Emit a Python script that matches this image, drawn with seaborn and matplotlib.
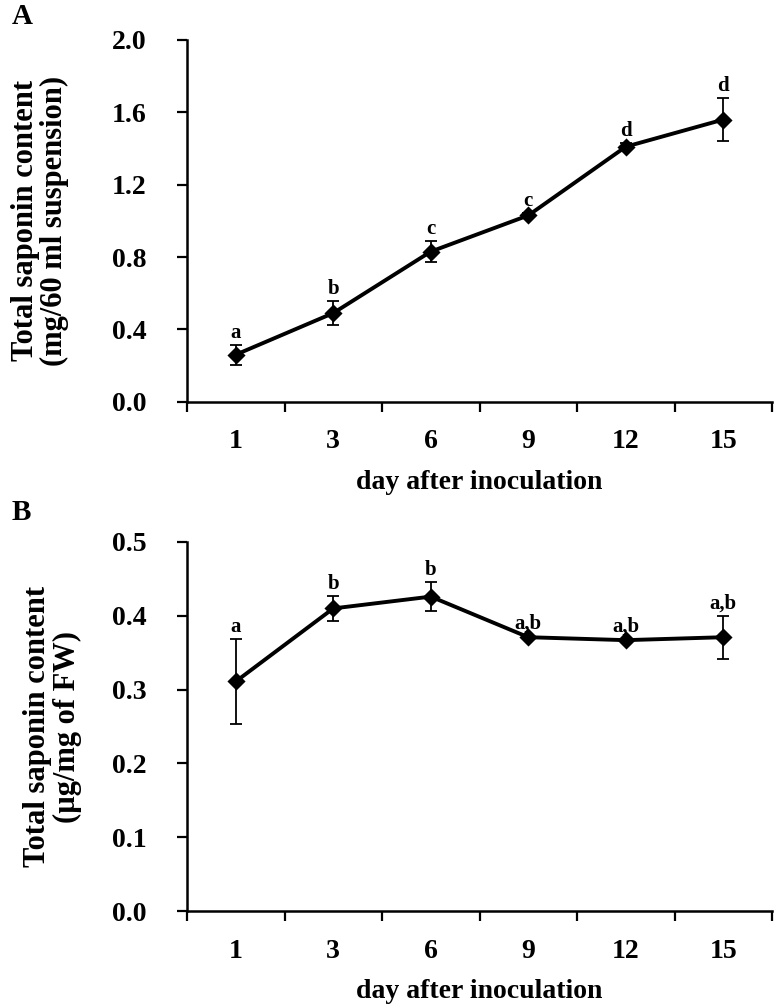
import matplotlib
matplotlib.use("Agg")
import matplotlib.pyplot as plt
import seaborn as sns
import numpy as np
import pandas as pd

# ---- data ----
days = ["1", "3", "6", "9", "12", "15"]
saponin_a = [0.26, 0.49, 0.83, 1.03, 1.41, 1.56]
err_a = [0.055, 0.067, 0.06, 0.012, 0.02, 0.12]
letters_a = ["a", "b", "c", "c", "d", "d"]

saponin_b = [0.311, 0.410, 0.426, 0.371, 0.367, 0.371]
err_b = [0.057, 0.017, 0.020, 0.002, 0.002, 0.029]
letters_b = ["a", "b", "b", "a,b", "a,b", "a,b"]

xlabel = "day after inoculation"
ylabel_a = "Total saponin content\n(mg/60 ml suspension)"
ylabel_b = "Total saponin content\n(\u00b5g/mg of FW)"

sns.set_theme(style="white")
plt.rcParams["font.family"] = ["Liberation Serif", "DejaVu Serif"]
plt.rcParams["font.weight"] = "bold"

fig = plt.figure(figsize=(7.77, 10.05), dpi=100)
axA = fig.add_axes([0.2407, 0.6003, 0.7529, 0.3599])
axB = fig.add_axes([0.2407, 0.0935, 0.7529, 0.3672])


def draw(ax, vals, errs, letters, ymax, ystep, ylab, ylab_x, label_off, fmt):
    df = pd.DataFrame({"day": days, "val": vals})
    sns.pointplot(data=df, x="day", y="val", order=days, color="black",
                  markers="D", markersize=7, linewidth=2.8, errorbar=None, ax=ax)
    pos = np.arange(len(days))
    ax.errorbar(pos, vals, yerr=errs, fmt="none", ecolor="black",
                elinewidth=1.3, capsize=4, capthick=1.3, zorder=1)
    for p, v, e, t in zip(pos, vals, errs, letters):
        ax.text(p, v + e + label_off, t, ha="center", va="bottom",
                fontsize=15, fontweight="bold", color="black")
    ax.set_xlim(-0.5, len(days) - 0.5)
    ax.set_ylim(0, ymax)
    yt = np.arange(0, ymax + ystep / 2, ystep)
    ax.set_yticks(yt)
    ax.set_yticklabels([fmt.format(v) for v in yt], fontsize=20, fontweight="bold")
    ax.set_xticks(pos)
    ax.set_xticklabels(days, fontsize=20, fontweight="bold")
    ax.set_xticks(np.arange(-0.5, len(days) + 0.5, 1), minor=True)
    ax.tick_params(axis="x", which="major", length=0, pad=20, colors="black")
    ax.tick_params(axis="x", which="minor", length=7, width=1.6, direction="out",
                   color="black", bottom=True)
    ax.tick_params(axis="y", which="major", length=7, width=1.6, direction="out",
                   pad=22, colors="black", left=True)
    for s in ["top", "right"]:
        ax.spines[s].set_visible(False)
    for s in ["left", "bottom"]:
        ax.spines[s].set_color("black")
        ax.spines[s].set_linewidth(1.8)
    ax.set_xlabel(xlabel, fontsize=20, fontweight="bold", labelpad=11, color="black")
    ax.set_ylabel("")
    ax.text(ylab_x, 0.5, ylab, transform=ax.transAxes, rotation=90,
            ha="center", va="center", multialignment="center",
            fontsize=22, fontweight="bold", color="black", linespacing=1.0)
    ax.grid(False)


draw(axA, saponin_a, err_a, letters_a, 2.0, 0.4, ylabel_a, -0.251, 0.01, "{:.1f}")
draw(axB, saponin_b, err_b, letters_b, 0.5, 0.1, ylabel_b, -0.23, 0.003, "{:.1f}")

fig.text(12 / 777, 1 - 16 / 1005, "A", fontsize=21, fontweight="bold",
         va="center", ha="left", color="black")
fig.text(12 / 777, 1 - 512 / 1005, "B", fontsize=21, fontweight="bold",
         va="center", ha="left", color="black")

fig.savefig("out.png", dpi=100, facecolor="white")
